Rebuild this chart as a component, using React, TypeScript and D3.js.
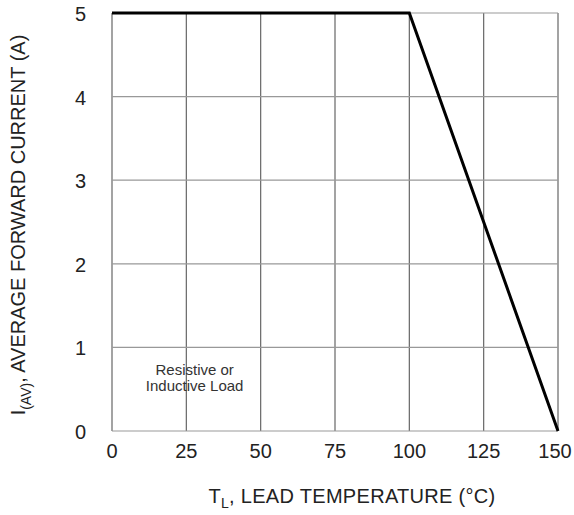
import React, { useEffect, useRef } from 'react';
import * as d3 from 'd3';

// Derating curve points
const temps = [0, 100, 150];
const currents = [5, 5, 0];

// Axis ticks
const xTicks = [0, 25, 50, 75, 100, 125, 150];
const yTicks = [0, 1, 2, 3, 4, 5];

const App = () => {
  const ref = useRef<SVGSVGElement>(null);

  useEffect(() => {
    const width = 574;
    const height = 515;
    const margin = { top: 13, right: 16, bottom: 84, left: 112 };
    const font = 'Liberation Sans, Arial, sans-serif';
    const ink = '#222';

    const svg = d3.select(ref.current);
    svg.selectAll('*').remove();

    const x = d3
      .scaleLinear()
      .domain([0, 150])
      .range([margin.left, width - margin.right]);
    const y = d3
      .scaleLinear()
      .domain([0, 5])
      .range([height - margin.bottom, margin.top]);

    // Grid
    svg
      .append('g')
      .selectAll('line')
      .data(xTicks)
      .join('line')
      .attr('x1', (d) => x(d))
      .attr('x2', (d) => x(d))
      .attr('y1', y(0))
      .attr('y2', y(5))
      .attr('stroke', '#666')
      .attr('stroke-width', 1.2);

    svg
      .append('g')
      .selectAll('line')
      .data(yTicks)
      .join('line')
      .attr('x1', x(0))
      .attr('x2', x(150))
      .attr('y1', (d) => y(d))
      .attr('y2', (d) => y(d))
      .attr('stroke', '#999')
      .attr('stroke-width', 1.2);

    // Tick labels (last one kept inside the page edge)
    svg
      .append('g')
      .selectAll('text')
      .data(xTicks)
      .join('text')
      .attr('x', (d) => Math.min(x(d), width - 19))
      .attr('y', y(0) + 27)
      .attr('text-anchor', 'middle')
      .attr('font-family', font)
      .attr('font-size', 20)
      .attr('fill', ink)
      .text((d) => d);

    svg
      .append('g')
      .selectAll('text')
      .data(yTicks)
      .join('text')
      .attr('x', x(0) - 26)
      .attr('y', (d) => y(d) + 8)
      .attr('text-anchor', 'end')
      .attr('font-family', font)
      .attr('font-size', 20)
      .attr('fill', ink)
      .text((d) => d);

    // Curve
    const line = d3
      .line<number>()
      .x((d) => x(d))
      .y((d, i) => y(currents[i]));

    svg
      .append('path')
      .datum(temps)
      .attr('fill', 'none')
      .attr('stroke', '#000')
      .attr('stroke-width', 3)
      .attr('stroke-linejoin', 'miter')
      .attr('d', line);

    // Annotation
    const note = svg
      .append('text')
      .attr('text-anchor', 'middle')
      .attr('font-family', font)
      .attr('font-size', 15)
      .attr('fill', '#333');
    note.append('tspan').attr('x', x(27.8)).attr('y', 375).text('Resistive or');
    note.append('tspan').attr('x', x(27.8)).attr('y', 391).text('Inductive Load');

    // X title
    const xt = svg
      .append('text')
      .attr('x', 352)
      .attr('y', 503)
      .attr('text-anchor', 'middle')
      .attr('font-family', font)
      .attr('font-size', 20)
      .attr('letter-spacing', 0.3)
      .attr('fill', ink);
    xt.append('tspan').text('T');
    xt.append('tspan').attr('font-size', 14).attr('dy', 5).text('L');
    xt.append('tspan').attr('dy', -5).text(',  LEAD TEMPERATURE (°C)');

    // Y title
    const yt = svg
      .append('text')
      .attr('transform', `translate(25, 225) rotate(-90)`)
      .attr('text-anchor', 'middle')
      .attr('font-family', font)
      .attr('font-size', 20)
      .attr('fill', ink);
    yt.append('tspan').text('I');
    yt.append('tspan').attr('font-size', 14).attr('dy', 6).text('(AV)');
    yt.append('tspan').attr('dy', -6).text(', AVERAGE FORWARD CURRENT (A)');
  }, []);

  return (
    <svg
      ref={ref}
      width={574}
      height={515}
      style={{ position: 'absolute', left: 0, top: 0, background: '#fff' }}
    />
  );
};

export default App;
